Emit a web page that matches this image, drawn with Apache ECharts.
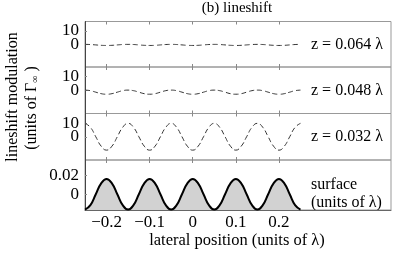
<!DOCTYPE html>
<html><head><meta charset="utf-8">
<script src="https://cdn.jsdelivr.net/npm/echarts@6/dist/echarts.min.js"></script>
<style>html,body{margin:0;padding:0;background:#fff}#c{width:395px;height:263px}</style>
</head><body><div id="c"></div>
<script>
const xPos = [-0.25,-0.2375,-0.225,-0.2125,-0.2,-0.1875,-0.175,-0.1625,-0.15,-0.1375,-0.125,-0.1125,-0.1,-0.0875,-0.075,-0.0625,-0.05,-0.0375,-0.025,-0.0125,0,0.0125,0.025,0.0375,0.05,0.0625,0.075,0.0875,0.1,0.1125,0.125,0.1375,0.15,0.1625,0.175,0.1875,0.2,0.2125,0.225,0.2375,0.25];
const shiftZ064 = [-0.1,-0.2,-0.5,-0.8,-0.9,-0.8,-0.5,-0.2,-0.1,-0.2,-0.5,-0.8,-0.9,-0.8,-0.5,-0.2,-0.1,-0.2,-0.5,-0.8,-0.9,-0.8,-0.5,-0.2,-0.1,-0.2,-0.5,-0.8,-0.9,-0.8,-0.5,-0.2,-0.1,-0.2,-0.5,-0.8,-0.9,-0.8,-0.5,-0.2,-0.1];
const shiftZ048 = [0.1,-0.3,-1.4,-2.5,-2.9,-2.5,-1.4,-0.3,0.1,-0.3,-1.4,-2.5,-2.9,-2.5,-1.4,-0.3,0.1,-0.3,-1.4,-2.5,-2.9,-2.5,-1.4,-0.3,0.1,-0.3,-1.4,-2.5,-2.9,-2.5,-1.4,-0.3,0.1,-0.3,-1.4,-2.5,-2.9,-2.5,-1.4,-0.3,0.1];
const shiftZ032 = [9.8,6.9,0,-6.9,-9.8,-6.9,0,6.9,9.8,6.9,0,-6.9,-9.8,-6.9,0,6.9,9.8,6.9,0,-6.9,-9.8,-6.9,0,6.9,9.8,6.9,0,-6.9,-9.8,-6.9,0,6.9,9.8,6.9,0,-6.9,-9.8,-6.9,0,6.9,9.8];
const surface = [-0.0165,-0.0117,0,0.0117,0.0165,0.0117,0,-0.0117,-0.0165,-0.0117,0,0.0117,0.0165,0.0117,0,-0.0117,-0.0165,-0.0117,0,0.0117,0.0165,0.0117,0,-0.0117,-0.0165,-0.0117,0,0.0117,0.0165,0.0117,0,-0.0117,-0.0165,-0.0117,0,0.0117,0.0165,0.0117,0,-0.0117,-0.0165];
const xTicks = [-0.2,-0.1,0,0.1,0.2];
const shiftTicks = [0,10];
const surfaceTicks = [0,0.02];
const panelLabels = ['z = 0.064 λ','z = 0.048 λ','z = 0.032 λ'];

const FONT = '"Liberation Serif","DejaVu Serif",serif';
const chart = echarts.init(document.getElementById('c'));
const tops = [21.5, 67, 113.5, 160];
const heights = [45.5, 46.5, 46.5, 50];
const grids = tops.map((t,i)=>({left:85, right:4, top:t, height:heights[i], show:true, borderColor:'#999', borderWidth:1, backgroundColor:'transparent'}));
const fmtX = v => (Math.abs(v)<1e-9 ? '0' : String(Math.round(v*10)/10).replace('-','−'));
const xAxes = [];
for (let i=0;i<4;i++){
  ['bottom','top'].forEach(pos=>{
    xAxes.push({type:'value', gridIndex:i, min:-0.25, max:0.46, position:pos,
      axisLine:{show: (i===3 && pos==='bottom'), onZero:false, lineStyle:{color:'#666'}},
      axisTick:{show:true, inside:true, length:3, customValues:xTicks, lineStyle:{color:'#888'}},
      axisLabel:{show:(i===3 && pos==='bottom'), customValues:xTicks, formatter:fmtX, fontFamily:FONT, fontSize:17, color:'#000', margin:4},
      splitLine:{show:false}});
  });
}
const yAxes = [];
for (let i=0;i<4;i++){
  const ticks = i<3 ? shiftTicks : surfaceTicks;
  const mn = i<3 ? -17 : -0.017, mx = i<3 ? 17 : 0.037;
  ticks.forEach((tv,j)=>{
    yAxes.push({type:'value', gridIndex:i, min:mn, max:mx, position:'left',
      axisLine:{show:j===0, onZero:false, lineStyle:{color:'#444'}},
      axisTick:{show:j===0, inside:true, length:2, customValues:ticks, lineStyle:{color:'#888'}},
      axisLabel:{customValues:[tv], fontFamily:FONT, fontSize:17, color:'#000', margin:6, formatter: v=>String(v)},
      splitLine:{show:false}});
  });
}
const pairs = arr => xPos.map((x,k)=>[x,arr[k]]);
const dashed = (arr,i)=>({type:'line', xAxisIndex:i*2, yAxisIndex:i*2, data:pairs(arr), smooth:0.5, symbol:'none',
  lineStyle:{color:'#333', width:1, type:[5,3]}, silent:true});
const series = [
  dashed(shiftZ064,0), dashed(shiftZ048,1), dashed(shiftZ032,2),
  {type:'line', xAxisIndex:6, yAxisIndex:6, data:pairs(surface), smooth:0.5, symbol:'none',
   lineStyle:{color:'#000', width:2}, areaStyle:{color:'#d2d2d2', origin:'start', opacity:1}, silent:true}
];
const txt = (x,y,text,size,align)=>({type:'text', x:x, y:y, style:{text:text, fontFamily:FONT, fontSize:size, fill:'#000', align:align||'left', verticalAlign:'middle'}});
const graphic = [
  txt(237,8,'(b) lineshift',15,'center'),
  txt(311,44.3,panelLabels[0],16), txt(311,90.3,panelLabels[1],16), txt(311,136.7,panelLabels[2],16),
  txt(311,185,'surface',16), txt(311,203,'(units of λ)',16),
  txt(237,241,'lateral position (units of λ)',16.5,'center'),
  {type:'text', x:13, y:97, rotation:Math.PI/2, style:{text:'lineshift modulation', fontFamily:FONT, fontSize:16, fill:'#000', align:'center', verticalAlign:'middle'}},
  {type:'text', x:32, y:108, rotation:Math.PI/2, style:{text:'{a|(units of Γ}{s|∞}{a| )}', fontFamily:FONT, fontSize:16, fill:'#000', align:'center', verticalAlign:'middle',
     rich:{a:{fontFamily:FONT, fontSize:16, fill:'#000'}, s:{fontFamily:FONT, fontSize:10, fill:'#000', verticalAlign:'bottom', padding:[7,0,0,0]}}}}
];
chart.setOption({animation:false, grid:grids, xAxis:xAxes, yAxis:yAxes, series:series, graphic:graphic});
</script></body></html>
